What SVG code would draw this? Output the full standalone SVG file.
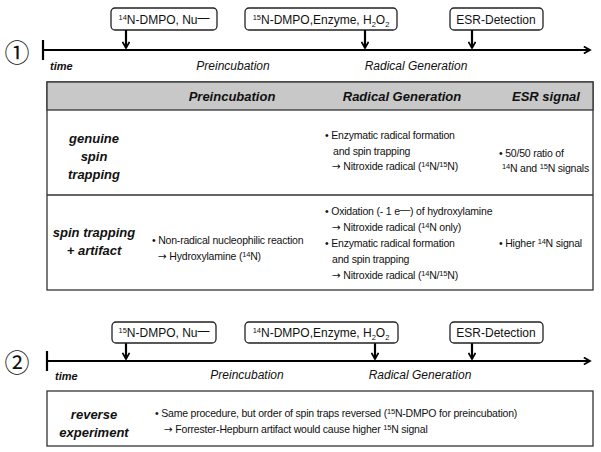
<svg xmlns="http://www.w3.org/2000/svg" width="601" height="452" viewBox="0 0 601 452">
<defs>
<style>
text{font-family:"Liberation Sans",Arial,sans-serif;fill:#111}
.lbl{font-size:12px}
.sup{font-size:7.5px}
.ax{font-size:12px;font-style:italic}
.tm{font-size:11px;font-style:italic;font-weight:bold}
.hd{font-size:13px;font-style:italic;font-weight:bold}
.rw{font-size:13px;font-style:italic;font-weight:bold}
.tx{font-size:10.5px;letter-spacing:-0.2px}
.ar{font-family:"DejaVu Sans",sans-serif}
.box{fill:#fff;stroke:#222;stroke-width:1.3}
.tbl{fill:#fff;stroke:#333;stroke-width:1.3}
.ln{stroke:#000;stroke-width:2.2;fill:none}
.circ{font-family:"Noto Sans CJK JP","DejaVu Sans",sans-serif;font-size:25px}
</style>
<marker id="chev" viewBox="0 0 10 10" refX="8" refY="5" markerWidth="4" markerHeight="4" orient="auto" markerUnits="strokeWidth">
<path d="M1,1 L8,5 L1,9" fill="none" stroke="#000" stroke-width="2"/>
</marker>
</defs>

<g id="timeline1">
<text class="circ" x="17" y="51" text-anchor="middle" dominant-baseline="central">①</text>
<line class="ln" x1="43" y1="40" x2="43" y2="60"/>
<line class="ln" x1="43" y1="50" x2="590" y2="50" marker-end="url(#chev)"/>
<text class="tm" x="50" y="70">time</text>
<text class="ax" x="233" y="70" text-anchor="middle">Preincubation</text>
<text class="ax" x="416" y="70" text-anchor="middle">Radical Generation</text>
</g>

<g id="box1a">
<rect class="box" x="111" y="8" width="106" height="22" rx="4"/>
<text class="lbl" x="164" y="24" text-anchor="middle"><tspan class="sup" dy="-4">14</tspan><tspan dy="4">N-DMPO, Nu</tspan><tspan dy="-2">—</tspan></text>
</g>
<g id="box1b">
<rect class="box" x="245" y="8" width="152" height="22" rx="4"/>
<text class="lbl" x="321" y="24" text-anchor="middle"><tspan class="sup" dy="-4">15</tspan><tspan dy="4">N-DMPO,Enzyme, H</tspan><tspan class="sup" dy="3">2</tspan><tspan dy="-3">O</tspan><tspan class="sup" dy="3">2</tspan></text>
</g>
<g id="box1c">
<rect class="box" x="450" y="8" width="93" height="22" rx="4"/>
<text class="lbl" x="496" y="24" text-anchor="middle">ESR-Detection</text>
</g>

<g id="connectors">
<line class="ln" x1="126" y1="30" x2="126" y2="48" marker-end="url(#chev)"/>
<line class="ln" x1="365" y1="30" x2="365" y2="48" marker-end="url(#chev)"/>
<line class="ln" x1="472" y1="30" x2="472" y2="48" marker-end="url(#chev)"/>
<line class="ln" x1="126" y1="343" x2="126" y2="359" marker-end="url(#chev)"/>
<line class="ln" x1="375" y1="343" x2="375" y2="359" marker-end="url(#chev)"/>
<line class="ln" x1="472" y1="343" x2="472" y2="359" marker-end="url(#chev)"/>
</g>

<g id="table1">
<rect class="tbl" x="47" y="82" width="546" height="208"/>
<rect x="47" y="82" width="546" height="28" fill="#c8c8c8" stroke="#333" stroke-width="1.3"/>
<line x1="47" y1="195" x2="593" y2="195" stroke="#333" stroke-width="1.3"/>
<text class="hd" x="232" y="101" text-anchor="middle">Preincubation</text>
<text class="hd" x="402" y="101" text-anchor="middle">Radical Generation</text>
<text class="hd" x="546" y="101" text-anchor="middle">ESR signal</text>

<text class="rw" x="94" y="143" text-anchor="middle">genuine</text>
<text class="rw" x="94" y="161" text-anchor="middle">spin</text>
<text class="rw" x="94" y="179" text-anchor="middle">trapping</text>
<text class="tx" x="325" y="139">• Enzymatic radical formation</text>
<text class="tx" x="333" y="155">and spin trapping</text>
<text class="tx" x="332" y="170"><tspan class="ar">→</tspan> Nitroxide radical (<tspan class="sup" dy="-3">14</tspan><tspan dy="3">N/</tspan><tspan class="sup" dy="-3">15</tspan><tspan dy="3">N)</tspan></text>
<text class="tx" x="499" y="157">• 50/50 ratio of</text>
<text class="tx" x="502" y="172"><tspan class="sup" dy="-3">14</tspan><tspan dy="3">N and </tspan><tspan class="sup" dy="-3">15</tspan><tspan dy="3">N signals</tspan></text>

<text class="rw" x="94" y="237" text-anchor="middle">spin trapping</text>
<text class="rw" x="94" y="255" text-anchor="middle">+ artifact</text>
<text class="tx" x="152" y="244">• Non-radical nucleophilic reaction</text>
<text class="tx" x="158" y="260"><tspan class="ar">→</tspan> Hydroxylamine (<tspan class="sup" dy="-3">14</tspan><tspan dy="3">N)</tspan></text>
<text class="tx" x="325" y="215">• Oxidation (- 1 e<tspan dy="-2">—</tspan><tspan dy="2">) of hydroxylamine</tspan></text>
<text class="tx" x="332" y="231"><tspan class="ar">→</tspan> Nitroxide radical (<tspan class="sup" dy="-3">14</tspan><tspan dy="3">N only)</tspan></text>
<text class="tx" x="325" y="247">• Enzymatic radical formation</text>
<text class="tx" x="332" y="263">and spin trapping</text>
<text class="tx" x="332" y="279"><tspan class="ar">→</tspan> Nitroxide radical (<tspan class="sup" dy="-3">14</tspan><tspan dy="3">N/</tspan><tspan class="sup" dy="-3">15</tspan><tspan dy="3">N)</tspan></text>
<text class="tx" x="499" y="247">• Higher <tspan class="sup" dy="-3">14</tspan><tspan dy="3">N signal</tspan></text>
</g>

<g id="timeline2">
<text class="circ" x="17" y="361" text-anchor="middle" dominant-baseline="central">②</text>
<line class="ln" x1="47" y1="351" x2="47" y2="371"/>
<line class="ln" x1="47" y1="361" x2="590" y2="361" marker-end="url(#chev)"/>
<text class="tm" x="55" y="380">time</text>
<text class="ax" x="247" y="379" text-anchor="middle">Preincubation</text>
<text class="ax" x="420" y="379" text-anchor="middle">Radical Generation</text>
</g>

<g id="box2a">
<rect class="box" x="112" y="322" width="104" height="21" rx="4"/>
<text class="lbl" x="164" y="337" text-anchor="middle"><tspan class="sup" dy="-4">15</tspan><tspan dy="4">N-DMPO, Nu</tspan><tspan dy="-2">—</tspan></text>
</g>
<g id="box2b">
<rect class="box" x="245" y="322" width="153" height="21" rx="4"/>
<text class="lbl" x="321" y="337" text-anchor="middle"><tspan class="sup" dy="-4">14</tspan><tspan dy="4">N-DMPO,Enzyme, H</tspan><tspan class="sup" dy="3">2</tspan><tspan dy="-3">O</tspan><tspan class="sup" dy="3">2</tspan></text>
</g>
<g id="box2c">
<rect class="box" x="450" y="322" width="93" height="21" rx="4"/>
<text class="lbl" x="496" y="337" text-anchor="middle">ESR-Detection</text>
</g>

<g id="table2">
<rect class="tbl" x="47" y="391" width="546" height="55"/>
<text class="rw" x="94" y="419" text-anchor="middle">reverse</text>
<text class="rw" x="94" y="437" text-anchor="middle">experiment</text>
<text class="tx" x="155" y="417">• Same procedure, but order of spin traps reversed (<tspan class="sup" dy="-3">15</tspan><tspan dy="3">N-DMPO for preincubation)</tspan></text>
<text class="tx" x="164" y="433"><tspan class="ar">→</tspan> Forrester-Hepburn artifact  would cause higher <tspan class="sup" dy="-3">15</tspan><tspan dy="3">N signal</tspan></text>
</g>
</svg>
